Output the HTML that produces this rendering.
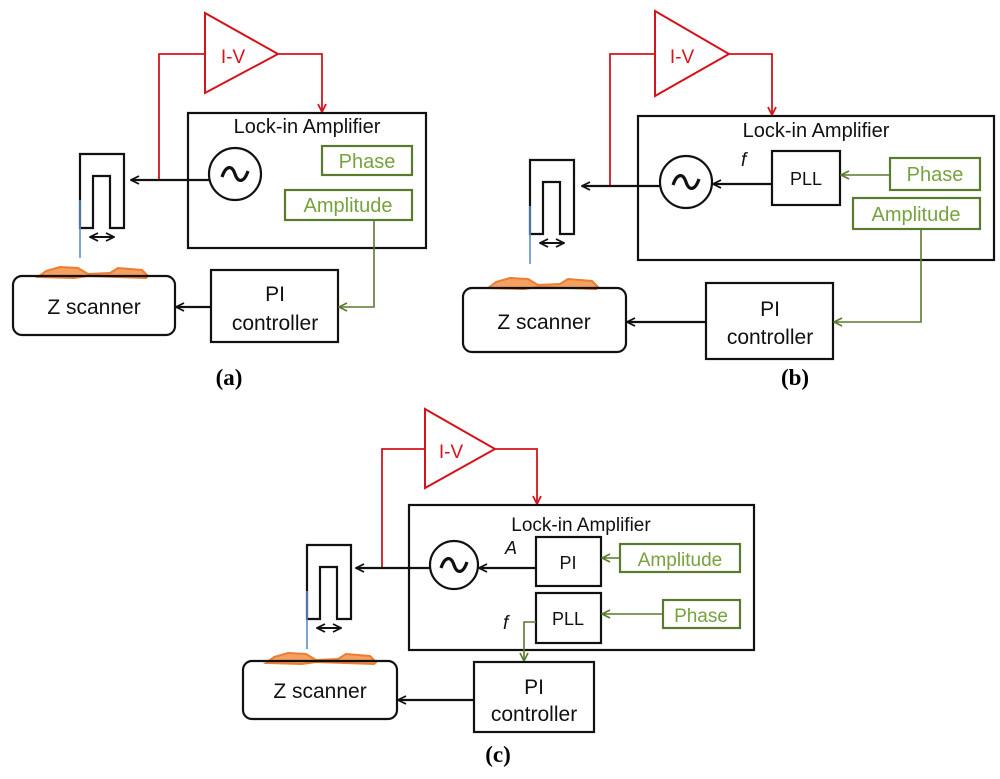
<!DOCTYPE html>
<html><head><meta charset="utf-8"><style>
html,body{margin:0;padding:0;background:#fff}
svg{display:block}
text{font-family:"Liberation Sans",sans-serif}
.lbl{font-family:"Liberation Serif",serif;font-weight:bold;font-size:23px}
.k{stroke:#111;stroke-width:2.2;fill:none}
.r{stroke:#d4141c;stroke-width:1.8;fill:none}
.g{stroke:#5a7a2e;stroke-width:1.6;fill:none}
.gb{stroke:#5a7a2e;stroke-width:2.2;fill:#fff}
.gt{fill:#76a33e}
.bt{fill:#111}
</style></head><body>
<svg width="1000" height="779" viewBox="0 0 1000 779" xmlns="http://www.w3.org/2000/svg">
<defs>
<marker id="ak" markerWidth="10" markerHeight="10" refX="9" refY="5" orient="auto-start-reverse" markerUnits="userSpaceOnUse"><polyline points="1,1 9,5 1,9" fill="none" stroke="#111" stroke-width="1.8"/></marker>
<marker id="ar" markerWidth="10" markerHeight="10" refX="9" refY="5" orient="auto" markerUnits="userSpaceOnUse"><polyline points="1,1 9,5 1,9" fill="none" stroke="#d4141c" stroke-width="1.8"/></marker>
<marker id="ag" markerWidth="10" markerHeight="10" refX="9" refY="5" orient="auto" markerUnits="userSpaceOnUse"><polyline points="1,1 9,5 1,9" fill="none" stroke="#5a7a2e" stroke-width="1.6"/></marker>
<g id="fork"><path d="M0,74 V0 H44 V74 H30 V22 H13 V74 Z" fill="none" stroke="#111" stroke-width="2.2"/>
<line x1="0" y1="46" x2="0" y2="104" stroke="#5b8fd0" stroke-width="1.6"/>
<line x1="10" y1="83" x2="34" y2="83" stroke="#111" stroke-width="2" marker-start="url(#ak)" marker-end="url(#ak)"/></g>
<path id="blob" d="M0,12 L8,6 L22,2 L40,3 L50,9 L72,8 L80,3 L104,5 L110,11 L108,13 L50,11 L36,13 Z" fill="#f4a060" stroke="#ed7d31" stroke-width="2"/>
<g id="sine"><path d="M-13,3 C-9,-9 -3,-9 0,0 C3,9 9,9 13,-3" fill="none" stroke="#111" stroke-width="3.2"/></g>
</defs>

<!-- ===== (a) ===== -->
<polygon points="205,13 205,93 278,54" fill="#fff" stroke="#d4141c" stroke-width="2"/>
<text x="233" y="63" fill="#d4141c" font-size="19" text-anchor="middle">I-V</text>
<polyline class="r" points="205,54 159,54 159,180"/>
<polyline class="r" points="278,54 322,54 322,112" marker-end="url(#ar)"/>
<rect x="188" y="113" width="238" height="135" class="k"/>
<text x="307" y="133" class="bt" text-anchor="middle" font-size="20">Lock-in Amplifier</text>
<rect x="322" y="146" width="90" height="29" class="gb"/><text x="367" y="168" class="gt" text-anchor="middle" font-size="20">Phase</text>
<rect x="285" y="190" width="127" height="30" class="gb"/><text x="348" y="212" class="gt" text-anchor="middle" font-size="20">Amplitude</text>
<line x1="209" y1="180" x2="131" y2="180" class="k" stroke-width="1.8" marker-end="url(#ak)"/>
<circle cx="235" cy="174" r="26" fill="#fff" stroke="#111" stroke-width="2.2"/><use href="#sine" x="235" y="174"/>
<use href="#fork" x="80" y="154"/>
<use href="#blob" x="38" y="265"/>
<rect x="13" y="276" width="162" height="59" rx="9" class="k"/>
<text x="94" y="314" class="bt" text-anchor="middle" font-size="21">Z scanner</text>
<rect x="211" y="270" width="127" height="72" class="k"/>
<text x="275" y="301" class="bt" text-anchor="middle" font-size="21">PI</text>
<text x="275" y="330" class="bt" text-anchor="middle" font-size="21">controller</text>
<line x1="211" y1="307" x2="176" y2="307" class="k" stroke-width="1.8" marker-end="url(#ak)"/>
<polyline class="g" points="374,220 374,307 339,307" marker-end="url(#ag)"/>
<text x="229" y="385" class="lbl" text-anchor="middle">(a)</text>

<!-- ===== (b) ===== -->
<polygon points="655,11 655,96 729,54" fill="#fff" stroke="#d4141c" stroke-width="2"/>
<text x="682" y="63" fill="#d4141c" font-size="19" text-anchor="middle">I-V</text>
<polyline class="r" points="655,54 610,54 610,186"/>
<polyline class="r" points="729,54 772,54 772,115" marker-end="url(#ar)"/>
<rect x="638" y="116" width="356" height="144" class="k"/>
<text x="816" y="137" class="bt" text-anchor="middle" font-size="20">Lock-in Amplifier</text>
<rect x="772" y="151" width="68" height="54" class="k"/><text x="806" y="185" class="bt" text-anchor="middle" font-size="18">PLL</text>
<rect x="890" y="158" width="90" height="32" class="gb"/><text x="935" y="181" class="gt" text-anchor="middle" font-size="20">Phase</text>
<rect x="853" y="198" width="127" height="31" class="gb"/><text x="916" y="221" class="gt" text-anchor="middle" font-size="20">Amplitude</text>
<line x1="890" y1="175" x2="841" y2="175" class="g" marker-end="url(#ag)"/>
<line x1="772" y1="184" x2="713" y2="184" class="k" stroke-width="1.8" marker-end="url(#ak)"/>
<text x="741" y="166" font-family="Liberation Serif,serif" font-style="italic" font-size="19" fill="#111">f</text>
<line x1="660" y1="186" x2="582" y2="186" class="k" stroke-width="1.8" marker-end="url(#ak)"/>
<circle cx="686" cy="182" r="26" fill="#fff" stroke="#111" stroke-width="2.2"/><use href="#sine" x="686" y="182"/>
<use href="#fork" x="530" y="160"/>
<use href="#blob" x="488" y="276"/>
<rect x="463" y="288" width="163" height="64" rx="9" class="k"/>
<text x="544" y="329" class="bt" text-anchor="middle" font-size="21">Z scanner</text>
<rect x="706" y="283" width="127" height="76" class="k"/>
<text x="770" y="316" class="bt" text-anchor="middle" font-size="21">PI</text>
<text x="770" y="344" class="bt" text-anchor="middle" font-size="21">controller</text>
<line x1="706" y1="322" x2="627" y2="322" class="k" stroke-width="1.8" marker-end="url(#ak)"/>
<polyline class="g" points="921,229 921,322 834,322" marker-end="url(#ag)"/>
<text x="795" y="385" class="lbl" text-anchor="middle">(b)</text>

<!-- ===== (c) ===== -->
<polygon points="425,409 425,488 495,449" fill="#fff" stroke="#d4141c" stroke-width="2"/>
<text x="451" y="458" fill="#d4141c" font-size="19" text-anchor="middle">I-V</text>
<polyline class="r" points="425,449 382,449 382,569"/>
<polyline class="r" points="495,449 537,449 537,504" marker-end="url(#ar)"/>
<rect x="409" y="505" width="345" height="145" class="k"/>
<text x="581" y="531" class="bt" text-anchor="middle" font-size="19">Lock-in Amplifier</text>
<rect x="536" y="537" width="65" height="49" class="k"/><text x="568" y="569" class="bt" text-anchor="middle" font-size="18">PI</text>
<rect x="536" y="593" width="65" height="50" class="k"/><text x="568" y="625" class="bt" text-anchor="middle" font-size="18">PLL</text>
<rect x="620" y="544" width="120" height="28" class="gb"/><text x="680" y="566" class="gt" text-anchor="middle" font-size="19">Amplitude</text>
<rect x="663" y="600" width="77" height="28" class="gb"/><text x="701" y="622" class="gt" text-anchor="middle" font-size="19">Phase</text>
<line x1="620" y1="558" x2="602" y2="558" class="g" marker-end="url(#ag)"/>
<line x1="663" y1="614" x2="602" y2="614" class="g" marker-end="url(#ag)"/>
<line x1="536" y1="568" x2="479" y2="568" class="k" stroke-width="1.8" marker-end="url(#ak)"/>
<text x="505" y="554" font-family="Liberation Sans,sans-serif" font-style="italic" font-size="18" fill="#111">A</text>
<text x="503" y="629" font-family="Liberation Serif,serif" font-style="italic" font-size="19" fill="#111">f</text>
<polyline class="g" points="536,622 524,622 524,661" marker-end="url(#ag)"/>
<line x1="430" y1="568" x2="356" y2="568" class="k" stroke-width="1.8" marker-end="url(#ak)"/>
<circle cx="454" cy="565" r="24" fill="#fff" stroke="#111" stroke-width="2.2"/><use href="#sine" x="454" y="565"/>
<use href="#fork" x="307" y="545"/>
<use href="#blob" x="266" y="651"/>
<rect x="243" y="661" width="154" height="58" rx="9" class="k"/>
<text x="320" y="698" class="bt" text-anchor="middle" font-size="21">Z scanner</text>
<rect x="474" y="662" width="120" height="70" class="k"/>
<text x="534" y="694" class="bt" text-anchor="middle" font-size="21">PI</text>
<text x="534" y="721" class="bt" text-anchor="middle" font-size="21">controller</text>
<line x1="474" y1="700" x2="398" y2="700" class="k" stroke-width="1.8" marker-end="url(#ak)"/>
<text x="498" y="762" class="lbl" text-anchor="middle">(c)</text>
</svg>
</body></html>
